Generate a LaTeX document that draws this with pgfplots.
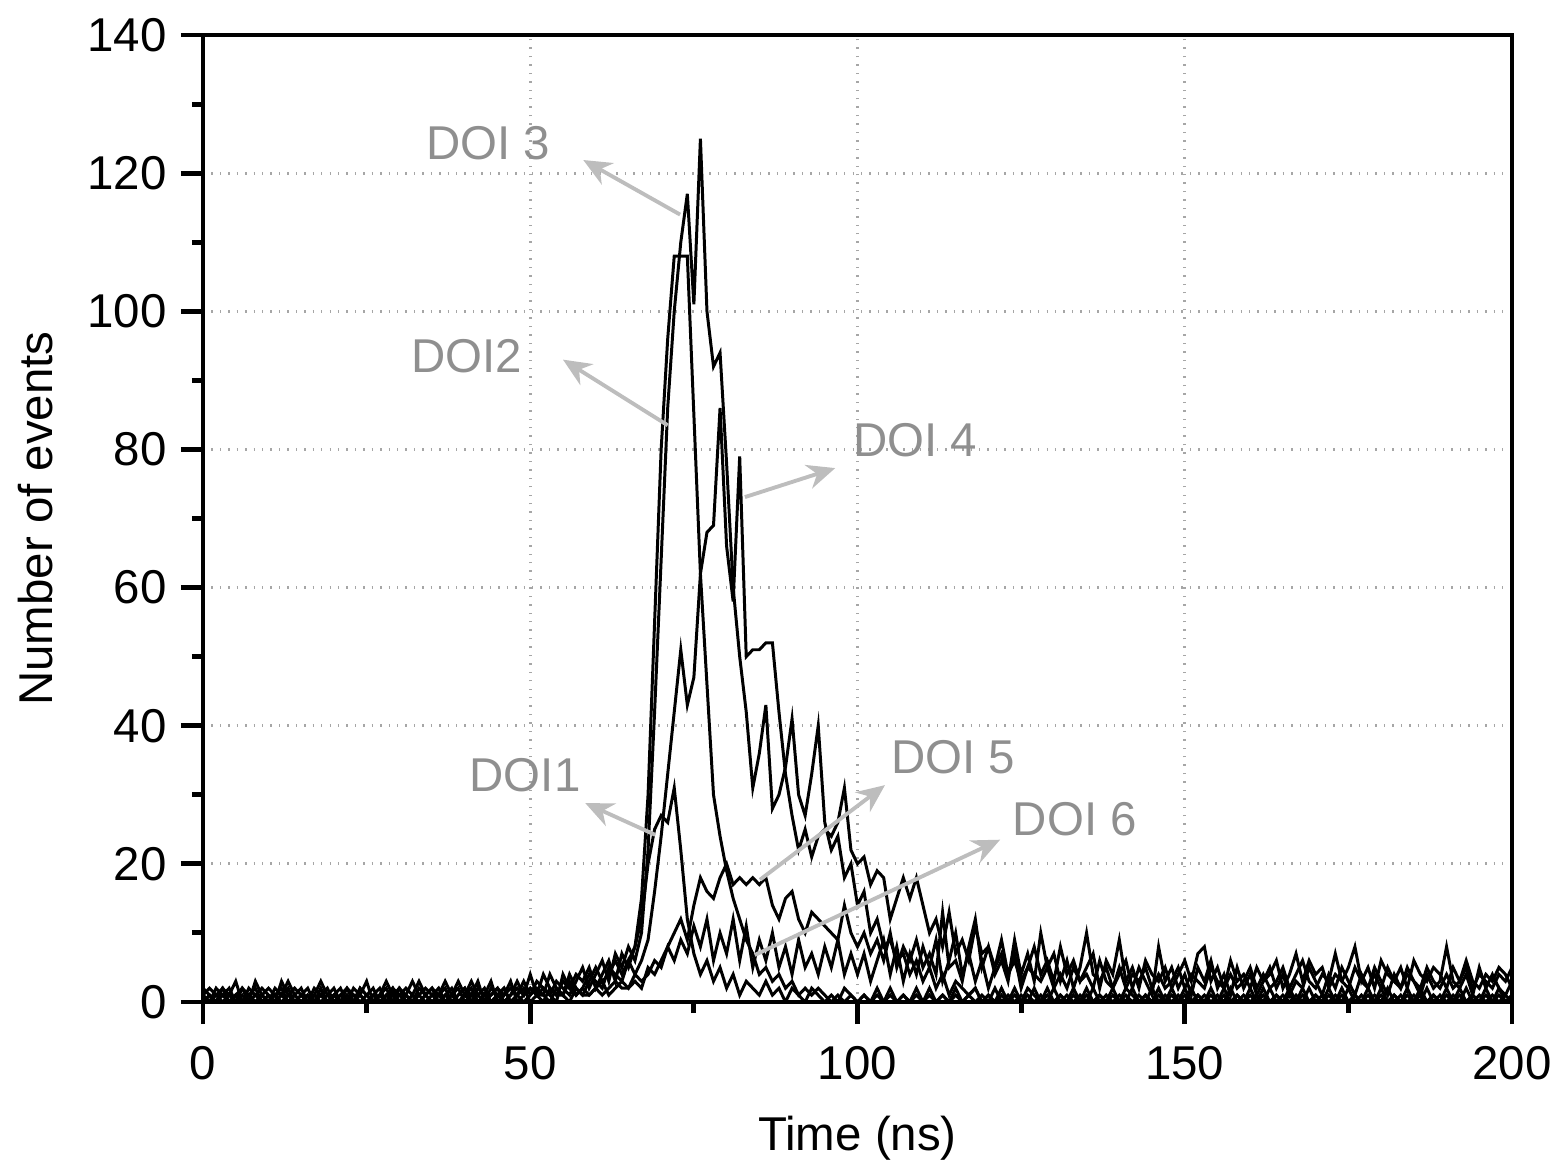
\documentclass[border=0pt]{standalone}
\usepackage{pgfplots}
\pgfplotsset{compat=1.18}
\usepackage{pgfplotstable}
\usepackage{fontspec}
\setmainfont{Liberation Sans}
\usetikzlibrary{arrows.meta}
\definecolor{lblgray}{HTML}{8F8F8F}
\definecolor{arrgray}{HTML}{BDBDBD}
\pgfplotstableread{
x d1 d2 d3 d4 d5 d6
0 1 0 2 1 0 1
1 0 1 1 2 1 0
2 2 0 0 1 0 1
3 1 1 2 0 1 2
4 0 2 1 1 0 0
5 1 0 3 0 1 1
6 2 1 0 2 0 0
7 0 0 1 1 2 1
8 3 1 0 0 1 2
9 1 2 1 1 0 0
10 0 1 2 0 1 1
11 1 0 1 2 0 0
12 2 1 0 1 1 3
13 0 3 1 0 2 1
14 1 1 2 1 0 0
15 2 0 1 0 1 1
16 0 1 0 1 0 2
17 1 0 2 0 1 0
18 0 2 1 1 3 1
19 1 0 0 2 1 0
20 2 1 1 0 0 1
21 0 0 2 1 1 0
22 1 2 0 0 2 1
23 0 1 1 2 0 0
24 2 0 1 1 1 2
25 1 1 3 0 0 1
26 0 2 0 1 1 0
27 1 0 1 0 2 1
28 0 1 2 1 0 3
29 2 0 0 2 1 1
30 1 2 1 0 0 2
31 0 1 2 1 1 0
32 1 0 1 3 0 1
33 3 1 0 1 2 0
34 1 2 1 0 1 1
35 0 1 2 1 0 2
36 1 0 1 2 1 0
37 2 1 0 0 3 1
38 0 2 1 1 1 0
39 1 0 3 2 0 1
40 2 1 1 0 1 2
41 0 3 0 1 2 1
42 1 1 2 0 0 3
43 0 2 1 1 1 0
44 2 0 1 3 0 1
45 1 1 2 0 1 2
46 0 2 0 1 2 1
47 1 0 1 2 0 3
48 3 1 2 1 1 0
49 1 3 1 0 2 1
50 2 1 4 1 0 2
51 1 2 1 3 1 1
52 4 1 2 2 0 1
53 2 0 1 1 2 4
54 1 2 3 0 1 2
55 3 1 2 4 1 1
56 2 4 1 2 0 3
57 4 2 3 1 2 1
58 3 1 5 2 1 2
59 5 3 2 4 1 1
60 2 5 4 3 2 2
61 4 3 6 2 1 3
62 6 4 3 5 2 1
63 3 6 7 4 3 2
64 7 4 5 3 2 3
65 5 6 8 6 2 2
66 8 8 6 4 3 4
67 12 15 10 6 2 3
68 20 30 22 9 5 4
69 25 55 42 16 4 6
70 27 80 64 24 6 5
71 26 96 86 33 8 8
72 31 108 100 42 10 6
73 22 108 110 51 12 9
74 12 108 117 43 9 7
75 7 85 101 47 14 11
76 4 62 125 62 18 8
77 6 46 100 68 16 12
78 3 30 92 69 15 6
79 5 24 94 86 18 10
80 2 19 78 66 20 7
81 4 15 60 58 17 12
82 1 12 50 79 18 6
83 3 9 42 50 17 11
84 2 7 31 51 18 5
85 1 4 36 51 17 9
86 3 5 43 52 18 6
87 1 3 28 52 14 10
88 2 4 30 42 12 5
89 0 2 34 33 15 8
90 2 3 41 27 16 4
91 1 1 30 22 12 9
92 0 2 27 25 10 5
93 2 1 33 21 13 7
94 1 2 40 24 12 4
95 0 1 26 25 11 8
96 1 0 22 24 10 5
97 0 1 24 26 9 9
98 2 0 18 31 14 4
99 1 1 20 22 10 7
100 0 0 14 20 8 4
101 1 1 16 21 10 7
102 0 0 10 17 7 3
103 2 1 12 19 9 6
104 0 0 8 18 6 9
105 1 2 9 12 10 4
106 0 0 6 15 5 8
107 1 1 7 18 8 3
108 0 0 4 15 6 7
109 2 1 6 18 9 4
110 0 0 3 14 5 8
111 1 2 5 10 7 5
112 0 0 2 12 4 9
113 1 1 4 8 13 3
114 0 0 1 13 5 6
115 2 1 3 7 6 10
116 0 0 2 9 3 4
117 1 1 1 6 8 7
118 0 2 2 11 12 3
119 1 0 0 7 5 6
120 0 1 1 8 8 2
121 2 0 0 5 4 5
122 0 1 2 7 6 9
123 1 0 0 4 3 4
124 0 2 1 6 9 7
125 1 0 0 3 4 2
126 0 1 2 5 7 5
127 2 0 1 4 3 8
128 0 1 0 3 10 4
129 1 0 2 5 5 6
130 0 2 0 2 7 3
131 1 0 1 4 3 8
132 0 1 0 2 6 4
133 2 0 1 5 2 6
134 0 1 0 3 5 3
135 1 0 2 4 10 5
136 0 2 0 2 4 7
137 1 0 1 6 3 2
138 0 1 0 3 5 6
139 2 0 1 2 2 4
140 0 1 0 5 4 9
141 1 0 2 2 6 3
142 0 2 1 4 2 5
143 1 0 0 3 5 2
144 0 1 1 5 3 6
145 2 0 0 2 1 4
146 0 1 2 4 8 3
147 1 0 0 2 3 5
148 0 2 1 3 5 2
149 1 0 0 5 2 4
150 0 1 2 2 4 6
151 2 0 0 4 1 3
152 0 1 1 3 5 7
153 1 0 0 2 3 8
154 0 2 1 5 6 3
155 1 0 0 3 2 5
156 0 1 2 2 4 2
157 2 0 0 4 1 6
158 0 1 1 2 5 3
159 1 0 0 3 2 4
160 0 2 1 5 4 2
161 1 0 0 2 1 5
162 0 1 2 4 3 3
163 2 0 0 2 5 4
164 0 1 1 3 2 6
165 1 0 0 5 4 2
166 0 2 1 2 1 4
167 1 0 0 4 3 7
168 0 1 2 6 2 3
169 2 0 0 3 5 6
170 0 1 1 2 3 4
171 1 0 0 4 1 5
172 0 2 1 3 4 2
173 1 0 0 7 2 4
174 0 1 2 3 5 3
175 2 0 0 2 3 5
176 0 1 1 5 1 8
177 1 0 0 3 4 3
178 0 2 1 2 2 5
179 1 0 0 4 5 2
180 0 1 2 2 3 6
181 2 0 0 5 1 4
182 0 1 1 3 4 3
183 1 0 0 2 2 5
184 0 2 1 4 5 2
185 1 0 0 3 3 6
186 0 1 2 2 1 4
187 2 0 0 5 4 3
188 0 1 1 3 2 5
189 1 0 0 2 3 4
190 0 2 1 4 8 2
191 1 0 0 2 3 5
192 0 1 2 3 2 3
193 2 0 0 5 4 6
194 0 1 1 2 1 3
195 1 0 0 4 5 2
196 0 2 1 3 2 4
197 1 0 0 2 4 3
198 0 1 2 4 2 5
199 1 0 0 3 1 4
200 0 1 1 5 3 2
}\doidata
\begin{document}
\begin{tikzpicture}
\begin{axis}[
  name=ax,
  scale only axis,
  width=13.09cm, height=9.67cm,
  xmin=0, xmax=200, ymin=0, ymax=140,
  xtick={0,50,...,200}, ytick={0,20,...,140},
  minor xtick={25,75,125,175},
  minor ytick={10,30,...,130},
  tick align=outside,
  major tick length=0.22cm,
  minor tick length=0.11cm,
  xtick pos=bottom, ytick pos=left,
  axis line style={line width=1.4pt},
  every tick/.style={black, line width=1.4pt},
  grid=major,
  major grid style={gray!70, dotted, line width=0.8pt},
  tick label style={font=\fontsize{13.5}{16}\selectfont},
  label style={font=\fontsize{13.5}{16}\selectfont},
  /pgf/number format/assume math mode=true,
  xticklabel style={yshift=-0.1cm},
  yticklabel style={xshift=-0.02cm},
  xlabel={Time (ns)},
  ylabel={Number of events},
  xlabel style={at={(axis description cs:0.5,-0.141)}, anchor=center},
  ylabel style={at={(axis description cs:-0.128,0.5)}, anchor=center},
  clip=true,
]
\addplot[black, line width=0.85pt] table[x=x, y=d1] {\doidata};
\addplot[black, line width=0.85pt] table[x=x, y=d2] {\doidata};
\addplot[black, line width=0.85pt] table[x=x, y=d3] {\doidata};
\addplot[black, line width=0.85pt] table[x=x, y=d4] {\doidata};
\addplot[black, line width=0.85pt] table[x=x, y=d5] {\doidata};
\addplot[black, line width=0.85pt] table[x=x, y=d6] {\doidata};
\begin{scope}[arrgray, line width=1.1pt, -{Stealth[length=8pt, width=7pt]}]
\draw (axis cs:72.9,114) -- (axis cs:58.1,121.9);
\draw (axis cs:71.0,83.5) -- (axis cs:55.0,93.0);
\draw (axis cs:82.8,73.1) -- (axis cs:96.6,77.3);
\draw (axis cs:69.1,24.2) -- (axis cs:58.4,28.8);
\draw (axis cs:85.1,17.7) -- (axis cs:104.2,31.4);
\draw (axis cs:84.3,6.8) -- (axis cs:121.8,23.5);
\end{scope}
\begin{scope}[font=\fontsize{13.5}{16}\selectfont, text=lblgray]
\node at (axis cs:43.6,124.4) {DOI 3};
\node at (axis cs:40.3,93.5) {DOI2};
\node at (axis cs:108.8,81.4) {DOI 4};
\node at (axis cs:49.2,32.9) {DOI1};
\node at (axis cs:114.6,35.5) {DOI 5};
\node at (axis cs:133.2,26.4) {DOI 6};
\end{scope}
\end{axis}
\pgfresetboundingbox
\path[use as bounding box] ([xshift=-2.03cm, yshift=-1.69cm]ax.south west) rectangle ([xshift=0.5cm, yshift=0.35cm]ax.north east);
\end{tikzpicture}
\end{document}
